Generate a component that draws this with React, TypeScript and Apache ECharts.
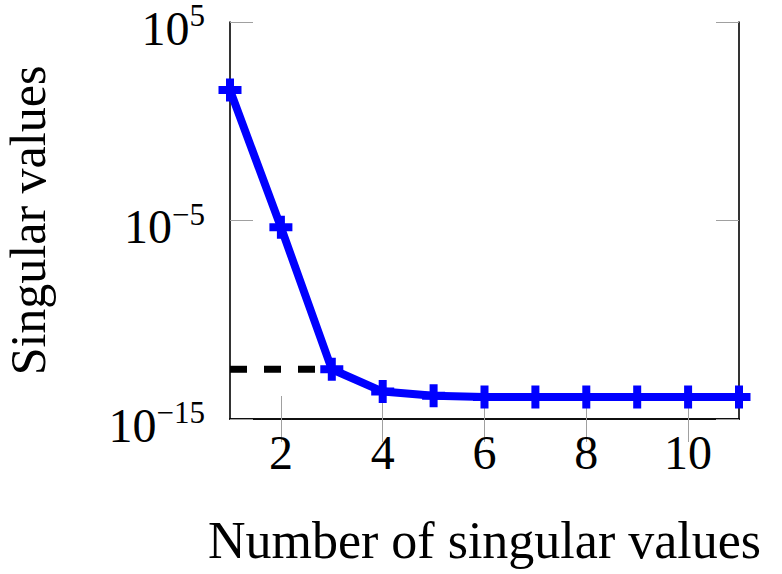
import React, { useEffect, useRef } from "react";
import * as echarts from "echarts";

const indices = [1, 2, 3, 4, 5, 6, 7, 8, 9, 10, 11];
const singularValues = [37, 4.6e-6, 3.2e-13, 2.4e-14, 1.5e-14, 1.3e-14, 1.3e-14, 1.3e-14, 1.3e-14, 1.3e-14, 1.3e-14];
const thresholdX = [1, 3];
const thresholdValue = 3.2e-13;
const xTickValues = [2, 4, 6, 8, 10];
const yMinExp = -15;
const yMaxExp = 5;
const yTickStepExp = 10;

const FONT = "'Liberation Serif', 'DejaVu Serif', serif";
const PLUS = "path://M7.5,0H15.5V7.5H23V15.5H15.5V23H7.5V15.5H0V7.5H7.5Z";

const toY = (v: number) => Math.log10(v) - yMinExp;

export default function App() {
  const ref = useRef<HTMLDivElement>(null);
  useEffect(() => {
    if (!ref.current) return;
    const chart = echarts.init(ref.current, null, { renderer: "svg" });
    const frame = { show: true, lineStyle: { color: "#000", width: 1.6 } };
    const tick = { show: true, inside: true, length: 23, lineStyle: { color: "#a0a0a0", width: 1 } };
    chart.setOption({
      animation: false,
      backgroundColor: "#fff",
      grid: { left: 230, right: 43, top: 22, bottom: 155, containLabel: false, outerBoundsMode: "none" },
      xAxis: [
        {
          type: "value",
          position: "bottom",
          min: 1,
          max: 11,
          axisLine: frame,
          axisTick: { ...tick, customValues: xTickValues },
          splitLine: { show: false },
          axisLabel: {
            customValues: xTickValues,
            fontFamily: FONT,
            fontSize: 48,
            color: "#000",
            margin: 9,
          },
          name: "Number of singular values",
          nameLocation: "middle",
          nameGap: 95,
          nameTextStyle: { fontFamily: FONT, fontSize: 52, color: "#000" },
        },
        {
          type: "value",
          position: "top",
          min: 1,
          max: 11,
          axisLine: frame,
          axisTick: { ...tick, customValues: xTickValues },
          axisLabel: { show: false, customValues: xTickValues },
          splitLine: { show: false },
        },
      ],
      yAxis: [
        {
          type: "value",
          position: "left",
          min: 0,
          max: yMaxExp - yMinExp,
          interval: yTickStepExp,
          axisLine: frame,
          axisTick: tick,
          splitLine: { show: false },
          axisLabel: {
            margin: 25,
            padding: [8, 0, 0, 0],
            formatter: (val: number) => {
              const e = Math.round(val + yMinExp);
              const s = e < 0 ? "\u2212" + Math.abs(e) : String(e);
              return `{b|10}{s|${s}}`;
            },
            rich: {
              b: { fontFamily: FONT, fontSize: 48, color: "#000", lineHeight: 52, verticalAlign: "bottom" },
              s: { fontFamily: FONT, fontSize: 31, color: "#000", lineHeight: 23, verticalAlign: "top" },
            },
          },
          name: "Singular values",
          nameLocation: "middle",
          nameGap: 177,
          nameRotate: 90,
          nameTextStyle: { fontFamily: FONT, fontSize: 50, color: "#000" },
        },
        {
          type: "value",
          position: "right",
          min: 0,
          max: yMaxExp - yMinExp,
          interval: yTickStepExp,
          axisLine: frame,
          axisTick: tick,
          axisLabel: { show: false },
          splitLine: { show: false },
        },
      ],
      series: [
        {
          type: "line",
          data: thresholdX.map((x) => [x, toY(thresholdValue)]),
          showSymbol: false,
          symbol: "none",
          lineStyle: { color: "#000", width: 7, type: [17, 17], cap: "butt" },
          z: 1,
          clip: false,
        },
        {
          type: "line",
          data: indices.map((x, i) => [x, toY(singularValues[i])]),
          symbol: PLUS,
          symbolSize: 23,
          itemStyle: { color: "#0000ff" },
          lineStyle: { color: "#0000ff", width: 8, join: "round" },
          z: 2,
          clip: false,
        },
      ],
    });
    return () => chart.dispose();
  }, []);
  return <div ref={ref} style={{ width: 782, height: 574, position: "absolute", left: 0, top: 0 }} />;
}
